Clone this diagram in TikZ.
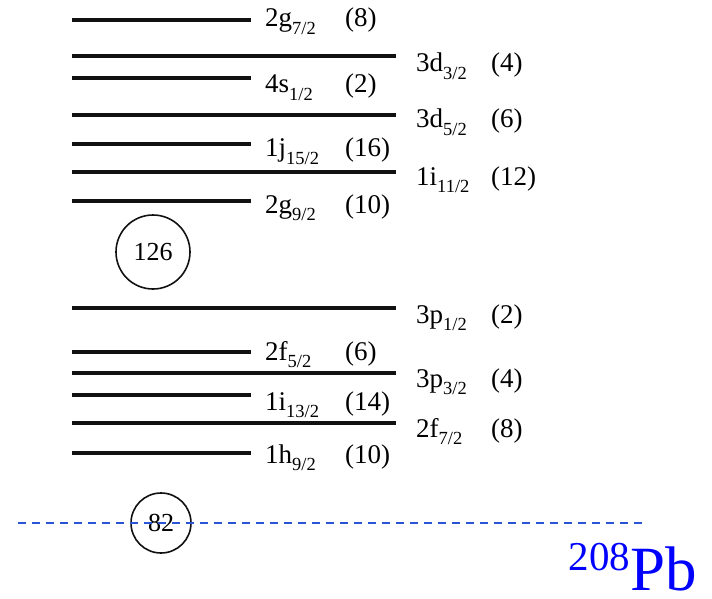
\documentclass[tikz,border=0pt]{standalone}
\usepackage{fontspec}
\setmainfont{Liberation Serif}
\usetikzlibrary{positioning}
\definecolor{lvlline}{HTML}{111111}
\definecolor{gapblue}{HTML}{2A56D6}
\definecolor{nucblue}{HTML}{0000FF}
\newcommand\jsub[1]{\raisebox{-0.28em}{\fontsize{18.5}{18.5}\selectfont #1}}
\tikzset{
  lvl/.style    = {line width=3.2pt, draw=lvlline},
  lvllbl/.style = {anchor=base west, inner sep=0pt, font=\fontsize{27}{30}\selectfont},
  deglbl/.style = {anchor=base west, inner sep=0pt, font=\fontsize{27}{30}\selectfont},
  magic/.style  = {circle, draw=lvlline, line width=1.6pt, inner sep=0pt,
                   font=\fontsize{26}{30}\selectfont},
  gapline/.style= {draw=gapblue, line width=2.4pt, dash pattern=on 8pt off 6pt},
  nuclbl/.style = {anchor=base east, inner sep=0pt, text=nucblue},
}
\begin{document}
\begin{tikzpicture}[x=1pt, y=-1pt]
	\useasboundingbox (0,0) rectangle (712,599);
	% short levels
	\foreach \y/\b/\nl/\j/\n [count=\i] in {20/27/2g/{7/2}/8, 78/93/4s/{1/2}/2, 144/157/1j/{15/2}/16,
	    201/213/2g/{9/2}/10, 352/360/2f/{5/2}/6, 395/410/1i/{13/2}/14, 453/463/1h/{9/2}/10}{
		\draw[lvl] (72,\y) -- (251,\y);
		\node[lvllbl] (sl\i) at (265,\b) {\nl\jsub{\j}};
		\node[deglbl] (sn\i) at (345,\b) {(\n)};
	}
	% long levels
	\foreach \y/\b/\nl/\j/\n [count=\i] in {56/72/3d/{3/2}/4, 115/128/3d/{5/2}/6, 172/185/1i/{11/2}/12,
	    308/323/3p/{1/2}/2, 373/387/3p/{3/2}/4, 423/437/2f/{7/2}/8}{
		\draw[lvl] (72,\y) -- (396,\y);
		\node[lvllbl] (ll\i) at (416,\b) {\nl\jsub{\j}};
		\node[deglbl] (ln\i) at (491,\b) {(\n)};
	}
	% magic numbers
	\node[magic, minimum size=74pt] (m126) at (153,252) {126};
	\node[magic, minimum size=60pt] (m82)  at (161,523) {82};
	\coordinate (gapL) at (18,523);
	\coordinate (gapR) at (643,523);
	\draw[gapline] (gapL) -- (gapR);
	\node[nuclbl] (pb) at (697,590) {\fontsize{41}{41}\selectfont\raisebox{20pt}{208}\fontsize{63}{63}\selectfont Pb};
\end{tikzpicture}
\end{document}
